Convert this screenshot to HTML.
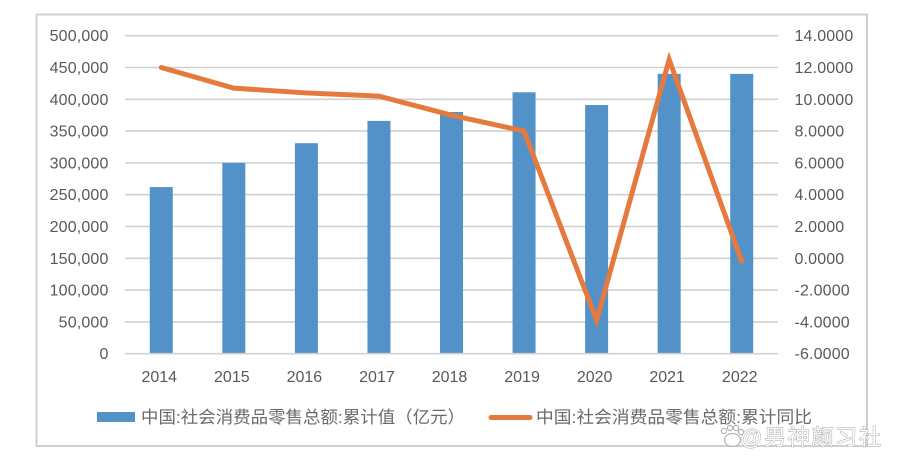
<!DOCTYPE html>
<html lang="zh">
<head>
<meta charset="utf-8">
<title>中国社会消费品零售总额</title>
<style>
html,body{margin:0;padding:0;background:#fff;width:898px;height:469px;overflow:hidden}
svg{display:block}
text{font-family:"Liberation Sans","Noto Sans CJK SC",sans-serif;fill:#595959}
</style>
</head>
<body>
<svg id="chart" xmlns="http://www.w3.org/2000/svg" width="898" height="469" viewBox="0 0 898 469">
  <rect x="36.5" y="14.5" width="830.5" height="431.5" fill="#fff" stroke="#d0d0d0" stroke-width="2"/>
  <g id="grid"></g>
  <g id="bars"></g>
  <g id="leftTicks"></g>
  <g id="rightTicks"></g>
  <g id="xTicks"></g>
  <polyline id="line" fill="none" stroke="#e67a3e" stroke-width="5" stroke-linejoin="miter" stroke-linecap="round"></polyline>
  <g>
    <rect x="97" y="412" width="38" height="10" fill="#5292c8"/>
    <text x="141" y="423" font-size="17" textLength="324" lengthAdjust="spacingAndGlyphs" style="fill:#6a6a6a">中国:社会消费品零售总额:累计值（亿元）</text>
    <line x1="491" y1="417.5" x2="530" y2="417.5" stroke="#e67a3e" stroke-width="5" stroke-linecap="round"/>
    <text x="536" y="423" font-size="17" textLength="276" lengthAdjust="spacingAndGlyphs" style="fill:#6a6a6a">中国:社会消费品零售总额:累计同比</text>
  </g>
  <g>
    <g fill="#fff" stroke="#b4b4b4" stroke-width="1.2">
      <circle cx="724" cy="431" r="2.6"/>
      <circle cx="730" cy="428" r="2.6"/>
      <circle cx="736" cy="428" r="2.6"/>
      <circle cx="741" cy="432" r="2.6"/>
      <ellipse cx="732.5" cy="440" rx="8" ry="6.5"/>
    </g>
    <text x="740" y="445" font-size="22" textLength="141" style="fill:#fff;stroke:#a0a0a0;stroke-width:0.9px;paint-order:stroke">@男神颜习社</text>
  </g>
</svg>
<script>
const categories = ['2014','2015','2016','2017','2018','2019','2020','2021','2022'];
const salesValues = [262000,300000,331000,366000,380000,411000,391000,440000,440000];
const growthValues = [12.0,10.7,10.4,10.2,9.0,8.0,-3.9,12.5,-0.2];
const leftTickValues = [0,50000,100000,150000,200000,250000,300000,350000,400000,450000,500000];
const leftTickLabels = ['0','50,000','100,000','150,000','200,000','250,000','300,000','350,000','400,000','450,000','500,000'];
const rightTickValues = [-6,-4,-2,0,2,4,6,8,10,12,14];
const rightTickLabels = ['-6.0000','-4.0000','-2.0000','0.0000','2.0000','4.0000','6.0000','8.0000','10.0000','12.0000','14.0000'];

const NS = 'http://www.w3.org/2000/svg';
const plotLeft = 125, plotRight = 778, plotTop = 35.7, plotBottom = 353.7, barWidth = 23;
const step = (plotRight - plotLeft) / categories.length;
const xCenter = i => plotLeft + step * (i + 0.5);
const yLeft = v => plotBottom - (v / 500000) * (plotBottom - plotTop);
const yRight = v => plotBottom - ((v + 6) / 20) * (plotBottom - plotTop);

function make(tag, attrs, parentId, content) {
  const el = document.createElementNS(NS, tag);
  for (const k in attrs) el.setAttribute(k, attrs[k]);
  if (content !== undefined) el.textContent = content;
  document.getElementById(parentId).appendChild(el);
  return el;
}

leftTickValues.forEach((v, i) => {
  const y = yLeft(v);
  const grid = make('line', {x1: plotLeft, x2: plotRight, y1: y, y2: y, stroke: '#d0d0d0', 'stroke-width': 1.6}, 'grid');
  
  
  const label = make('text', {x: 108.5, y: y + 5.5, 'text-anchor': 'end', 'font-size': 16, 'letter-spacing': 0.15}, 'leftTicks', leftTickLabels[i]);
  
  
});

rightTickValues.forEach((v, i) => {
  const label = make('text', {x: 794.5, y: yRight(v) + 5.5, 'font-size': 16, 'letter-spacing': 0.15}, 'rightTicks', rightTickLabels[i]);
  
  
});

categories.forEach((c, i) => {
  const y = yLeft(salesValues[i]);
  const bar = make('rect', {x: xCenter(i) - barWidth / 2, y: y, width: barWidth, height: plotBottom - 0.8 - y, fill: '#5292c8'}, 'bars');
  
  
  const label = make('text', {x: xCenter(i) - 2, y: 382, 'text-anchor': 'middle', 'font-size': 16}, 'xTicks', c);
  
  
});

document.getElementById('line').setAttribute('points',
  growthValues.map((v, i) => xCenter(i) + ',' + yRight(v)).join(' '));
</script>
</body>
</html>
